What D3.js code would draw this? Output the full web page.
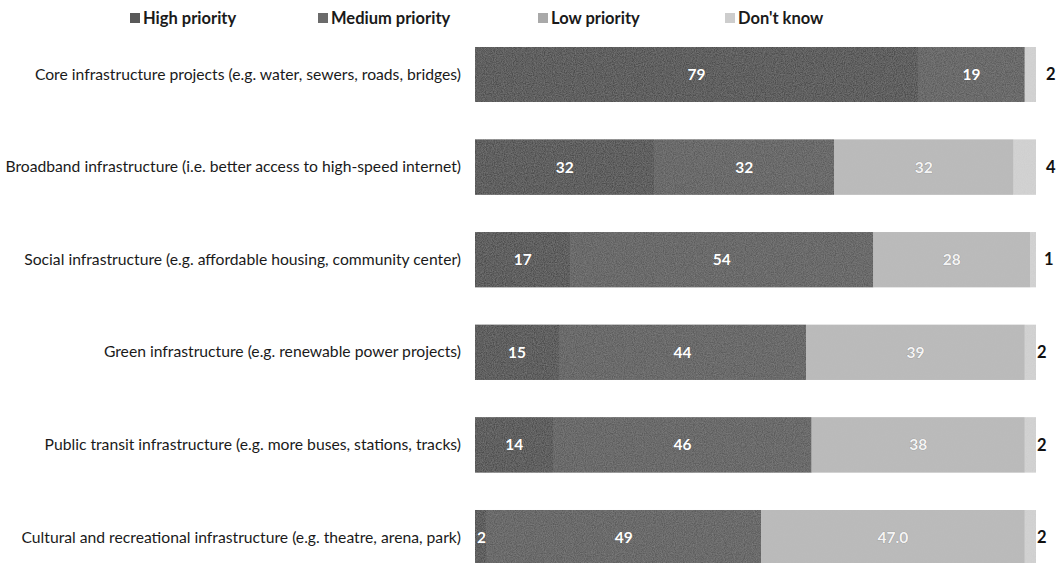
<!DOCTYPE html>
<html>
<head>
<meta charset="utf-8">
<script src="https://cdn.jsdelivr.net/npm/d3@7"></script>
<style>
  html, body { margin: 0; padding: 0; background: #fff; }
  svg { display: block; }
</style>
</head>
<body>
<script>
// Survey: priority given to each type of infrastructure investment (%)
const categories = [
  "Core infrastructure projects (e.g. water, sewers, roads, bridges)",
  "Broadband infrastructure (i.e. better access to high-speed internet)",
  "Social infrastructure (e.g. affordable housing, community center)",
  "Green infrastructure (e.g. renewable power projects)",
  "Public transit infrastructure (e.g. more buses, stations, tracks)",
  "Cultural and recreational infrastructure (e.g. theatre, arena, park)"
];
const seriesNames = ["High priority", "Medium priority", "Low priority", "Don't know"];
const highPriority   = [79, 32, 17, 15, 14, 2];
const mediumPriority = [19, 32, 54, 44, 46, 49];
const lowPriority    = [0, 32, 28, 39, 38, 47.0];
const dontKnow       = [2, 4, 1, 2, 2, 2];
// label text as printed on each segment
const lowLabels = ["", "32", "28", "39", "38", "47.0"];

const colors = ["#4d4d4d", "#5c5c5c", "#bababa", "#d3d3d3"];
const legendColors = ["#595959", "#6b6b6b", "#a9a9a9", "#cdcdcd"];
// gap between bar end and the outside "Don't know" label, per row
const outsidePad = [10, 10, 8, 1, 1, 1];

const W = 1060, H = 563;
const svg = d3.select("body").append("svg").attr("width", W).attr("height", H);

const defs = svg.append("defs");
const grain = defs.append("filter").attr("id", "grain")
  .attr("x", 0).attr("y", 0).attr("width", 1).attr("height", 1);
grain.append("feTurbulence").attr("type", "fractalNoise")
  .attr("baseFrequency", 0.9).attr("numOctaves", 2).attr("seed", 4).attr("result", "noise");
grain.append("feColorMatrix").attr("in", "noise").attr("type", "matrix")
  .attr("values", "0 0 0 0 0.5  0 0 0 0 0.5  0 0 0 0 0.5  0.4 0 0 0 -0.1")
  .attr("result", "tint");
grain.append("feComposite").attr("in", "tint").attr("in2", "SourceGraphic")
  .attr("operator", "atop").attr("result", "noisy");
grain.append("feMerge").selectAll("feMergeNode")
  .data(["SourceGraphic", "noisy"]).join("feMergeNode").attr("in", d => d);

const rows = categories.map((c, i) => ({
  category: c,
  "High priority": highPriority[i],
  "Medium priority": mediumPriority[i],
  "Low priority": lowPriority[i],
  "Don't know": dontKnow[i],
  index: i
}));

const stacked = d3.stack().keys(seriesNames)(rows);

const x = d3.scaleLinear().domain([0, 100]).range([475, 1036]);
const y = d3.scaleBand().domain(categories)
  .range([28.2, 583.8]).paddingInner(0.406).paddingOuter(0.203);
const color = d3.scaleOrdinal().domain(seriesNames).range(colors);

const labelFont = "Lato, 'Open Sans', sans-serif";

// category axis
const yAxis = d3.axisLeft(y).tickSize(0).tickPadding(14);
const gy = svg.append("g").attr("transform", `translate(${x(0)},0)`).call(yAxis);
gy.select(".domain").remove();
gy.selectAll("text")
  .attr("font-family", labelFont).attr("font-size", 15.7)
  .attr("fill", "#1a1a1a");

// stacked bars
const layers = svg.append("g").selectAll("g").data(stacked).join("g")
  .attr("fill", d => color(d.key));
layers.selectAll("rect").data(d => d).join("rect")
  .attr("x", d => x(d[0]))
  .attr("y", d => y(d.data.category))
  .attr("width", d => x(d[1]) - x(d[0]))
  .attr("height", y.bandwidth())
  .attr("filter", "url(#grain)");

// value labels
const vlab = svg.append("g").attr("font-family", labelFont).attr("font-weight", 700);
stacked.forEach((layer, si) => {
  layer.forEach((d, ri) => {
    const v = d[1] - d[0];
    if (v <= 0) return;
    const cy = y(d.data.category) + y.bandwidth() / 2;
    const txt = si === 2 ? lowLabels[ri] : String(v);
    if (si === 3) {
      vlab.append("text")
        .attr("x", x(d[1]) + outsidePad[ri]).attr("y", cy)
        .attr("dy", "0.35em").attr("font-size", 16.5).attr("fill", "#111")
        .text(txt);
    } else {
      const small = v < 5;
      vlab.append("text")
        .attr("x", small ? x(d[0]) + 2 : (x(d[0]) + x(d[1])) / 2)
        .attr("y", cy).attr("dy", "0.35em")
        .attr("text-anchor", small ? "start" : "middle")
        .attr("font-size", 15.5)
        .attr("fill", si === 2 ? "#f4f4f4" : "#fff")
        .attr("stroke", "rgba(40,40,40,0.35)").attr("stroke-width", 0.7)
        .attr("paint-order", "stroke")
        .text(txt);
    }
  });
});

// legend
const legendX = [130, 318, 538, 725];
const lg = svg.append("g").attr("font-family", labelFont);
seriesNames.forEach((name, i) => {
  const g = lg.append("g").attr("transform", `translate(${legendX[i]},18)`);
  g.append("rect").attr("x", 0).attr("y", -5).attr("width", 10).attr("height", 10)
    .attr("fill", legendColors[i]);
  g.append("text").attr("x", 13).attr("y", 0).attr("dy", "0.35em")
    .attr("font-size", 16.5).attr("font-weight", 700).attr("fill", "#1a1a1a")
    .text(name);
});
</script>
</body>
</html>
